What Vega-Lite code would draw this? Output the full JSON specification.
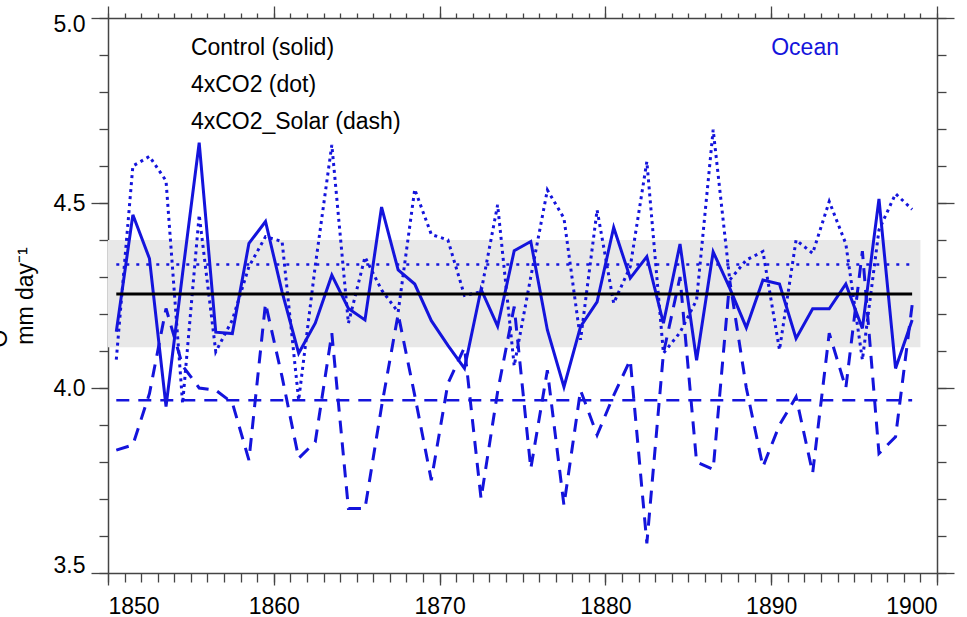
{
  "$schema": "https://vega.github.io/schema/vega-lite/v6.json",
  "width": 829,
  "height": 555,
  "autosize": "none",
  "padding": {"left": 108, "top": 18, "right": 30, "bottom": 44},
  "background": "white",
  "config": {
    "view": {"stroke": null},
    "axis": {
      "labelFont": "Liberation Sans",
      "titleFont": "Liberation Sans",
      "labelFontSize": 23,
      "labelColor": "black",
      "domainColor": "#444444",
      "tickColor": "#444444",
      "domainWidth": 1.5,
      "tickWidth": 1.3,
      "grid": false
    }
  },
  "datasets": {
    "series": [
      {"year": 1850.5, "control": 4.152, "co2": 4.077, "solar": 3.832},
      {"year": 1851.5, "control": 4.468, "co2": 4.600, "solar": 3.846},
      {"year": 1852.5, "control": 4.350, "co2": 4.626, "solar": 3.985},
      {"year": 1853.5, "control": 3.950, "co2": 4.560, "solar": 4.215},
      {"year": 1854.5, "control": 4.310, "co2": 3.958, "solar": 4.060},
      {"year": 1855.5, "control": 4.663, "co2": 4.468, "solar": 4.000},
      {"year": 1856.5, "control": 4.151, "co2": 4.098, "solar": 3.994},
      {"year": 1857.5, "control": 4.147, "co2": 4.184, "solar": 3.960},
      {"year": 1858.5, "control": 4.391, "co2": 4.328, "solar": 3.805},
      {"year": 1859.5, "control": 4.450, "co2": 4.409, "solar": 4.229},
      {"year": 1860.5, "control": 4.260, "co2": 4.396, "solar": 4.030},
      {"year": 1861.5, "control": 4.094, "co2": 3.967, "solar": 3.810},
      {"year": 1862.5, "control": 4.175, "co2": 4.330, "solar": 3.854},
      {"year": 1863.5, "control": 4.305, "co2": 4.657, "solar": 4.148},
      {"year": 1864.5, "control": 4.215, "co2": 4.175, "solar": 3.674},
      {"year": 1865.5, "control": 4.184, "co2": 4.354, "solar": 3.674},
      {"year": 1866.5, "control": 4.489, "co2": 4.265, "solar": 3.950},
      {"year": 1867.5, "control": 4.319, "co2": 4.205, "solar": 4.200},
      {"year": 1868.5, "control": 4.281, "co2": 4.537, "solar": 3.980},
      {"year": 1869.5, "control": 4.182, "co2": 4.415, "solar": 3.751},
      {"year": 1870.5, "control": 4.115, "co2": 4.400, "solar": 4.012},
      {"year": 1871.5, "control": 4.053, "co2": 4.250, "solar": 4.110},
      {"year": 1872.5, "control": 4.267, "co2": 4.260, "solar": 3.701},
      {"year": 1873.5, "control": 4.167, "co2": 4.495, "solar": 3.990},
      {"year": 1874.5, "control": 4.371, "co2": 4.060, "solar": 4.220},
      {"year": 1875.5, "control": 4.396, "co2": 4.300, "solar": 3.782},
      {"year": 1876.5, "control": 4.157, "co2": 4.535, "solar": 4.048},
      {"year": 1877.5, "control": 4.003, "co2": 4.459, "solar": 3.683},
      {"year": 1878.5, "control": 4.166, "co2": 4.130, "solar": 3.994},
      {"year": 1879.5, "control": 4.233, "co2": 4.481, "solar": 3.873},
      {"year": 1880.5, "control": 4.434, "co2": 4.229, "solar": 3.980},
      {"year": 1881.5, "control": 4.297, "co2": 4.328, "solar": 4.076},
      {"year": 1882.5, "control": 4.355, "co2": 4.612, "solar": 3.580},
      {"year": 1883.5, "control": 4.175, "co2": 4.094, "solar": 4.094},
      {"year": 1884.5, "control": 4.389, "co2": 4.150, "solar": 4.300},
      {"year": 1885.5, "control": 4.075, "co2": 4.238, "solar": 3.800},
      {"year": 1886.5, "control": 4.368, "co2": 4.698, "solar": 3.780},
      {"year": 1887.5, "control": 4.270, "co2": 4.292, "solar": 4.290},
      {"year": 1888.5, "control": 4.163, "co2": 4.346, "solar": 4.000},
      {"year": 1889.5, "control": 4.292, "co2": 4.369, "solar": 3.787},
      {"year": 1890.5, "control": 4.281, "co2": 4.103, "solar": 3.900},
      {"year": 1891.5, "control": 4.134, "co2": 4.400, "solar": 3.976},
      {"year": 1892.5, "control": 4.214, "co2": 4.364, "solar": 3.770},
      {"year": 1893.5, "control": 4.214, "co2": 4.504, "solar": 4.148},
      {"year": 1894.5, "control": 4.281, "co2": 4.390, "solar": 4.000},
      {"year": 1895.5, "control": 4.161, "co2": 4.076, "solar": 4.370},
      {"year": 1896.5, "control": 4.511, "co2": 4.427, "solar": 3.823},
      {"year": 1897.5, "control": 4.053, "co2": 4.525, "solar": 3.868},
      {"year": 1898.5, "control": 4.184, "co2": 4.483, "solar": 4.224}
    ],
    "band": [
      {"start": 1850, "end": 1899, "low": 4.11, "high": 4.40}
    ],
    "means": [
      {"run": "Control", "start": 1850.5, "end": 1898.5, "value": 4.254},
      {"run": "4xCO2", "start": 1850.5, "end": 1898.5, "value": 4.334},
      {"run": "4xCO2_Solar", "start": 1850.5, "end": 1898.5, "value": 3.967}
    ],
    "legend": [
      {"label": "Control (solid)", "year": 1855, "value": 4.9},
      {"label": "4xCO2 (dot)", "year": 1855, "value": 4.8},
      {"label": "4xCO2_Solar (dash)", "year": 1855, "value": 4.7}
    ],
    "region": [
      {"label": "Ocean", "year": 1890, "value": 4.9}
    ]
  },
  "layer": [
    {
      "data": {"name": "band"},
      "mark": {"type": "rect", "color": "#e8e8e8"},
      "encoding": {
        "x": {"field": "start", "type": "quantitative",
              "scale": {"domain": [1850, 1900], "nice": false, "zero": false},
              "axis": {"orient": "bottom", "values": [1850, 1860, 1870, 1880, 1890, 1900], "format": "d",
                       "tickSize": 12, "labelPadding": 10, "title": null}},
        "x2": {"field": "end"},
        "y": {"field": "low", "type": "quantitative",
              "scale": {"domain": [3.5, 5.0], "nice": false, "zero": false},
              "axis": {"orient": "left", "values": [3.5, 4.0, 4.5, 5.0], "format": ".1f",
                       "tickSize": 17, "labelPadding": 6, "labelFlush": true, "labelFlushOffset": 4.5,
                       "title": "mm day⁻¹", "titleFontSize": 23, "titleFontWeight": "normal",
                       "titleColor": "black", "titlePadding": 16}},
        "y2": {"field": "high"}
      }
    },
    {
      "data": {"name": "series"},
      "mark": {"type": "line", "color": "#1414dc", "strokeWidth": 3, "strokeDash": [13, 9]},
      "encoding": {
        "x": {"field": "year", "type": "quantitative",
              "scale": {"domain": [1850, 1900], "nice": false, "zero": false},
              "axis": {"orient": "bottom", "values": [1850,1851,1852,1853,1854,1855,1856,1857,1858,1859,1860,1861,1862,1863,1864,1865,1866,1867,1868,1869,1870,1871,1872,1873,1874,1875,1876,1877,1878,1879,1880,1881,1882,1883,1884,1885,1886,1887,1888,1889,1890,1891,1892,1893,1894,1895,1896,1897,1898,1899,1900],
                       "tickSize": 9, "labels": false, "domain": false, "title": null}},
        "y": {"field": "solar", "type": "quantitative",
              "scale": {"domain": [3.5, 5.0], "nice": false, "zero": false},
              "axis": {"orient": "left", "values": [3.5,3.6,3.7,3.8,3.9,4.0,4.1,4.2,4.3,4.4,4.5,4.6,4.7,4.8,4.9,5.0],
                       "tickSize": 9, "labels": false, "domain": false,
                       "title": "O", "titleAngle": 270, "titleAlign": "center", "titleBaseline": "alphabetic",
                       "titleX": -102, "titleY": 320, "titleFontSize": 23, "titleFontWeight": "normal", "titleColor": "black"}}
      }
    },
    {
      "data": {"name": "series"},
      "mark": {"type": "line", "color": "#1414dc", "strokeWidth": 3, "strokeDash": [3, 4]},
      "encoding": {
        "x": {"field": "year", "type": "quantitative",
              "scale": {"domain": [1850, 1900], "nice": false, "zero": false},
              "axis": {"orient": "top", "values": [1850, 1860, 1870, 1880, 1890, 1900],
                       "tickSize": 12, "labels": false, "domain": true, "title": null}},
        "y": {"field": "co2", "type": "quantitative",
              "scale": {"domain": [3.5, 5.0], "nice": false, "zero": false},
              "axis": {"orient": "right", "values": [3.5, 4.0, 4.5, 5.0],
                       "tickSize": 17, "labels": false, "domain": true, "title": null}}
      }
    },
    {
      "data": {"name": "series"},
      "mark": {"type": "line", "color": "#1414dc", "strokeWidth": 3},
      "encoding": {
        "x": {"field": "year", "type": "quantitative",
              "scale": {"domain": [1850, 1900], "nice": false, "zero": false},
              "axis": {"orient": "top", "values": [1850,1851,1852,1853,1854,1855,1856,1857,1858,1859,1860,1861,1862,1863,1864,1865,1866,1867,1868,1869,1870,1871,1872,1873,1874,1875,1876,1877,1878,1879,1880,1881,1882,1883,1884,1885,1886,1887,1888,1889,1890,1891,1892,1893,1894,1895,1896,1897,1898,1899,1900],
                       "tickSize": 5, "labels": false, "domain": false, "title": null}},
        "y": {"field": "control", "type": "quantitative",
              "scale": {"domain": [3.5, 5.0], "nice": false, "zero": false},
              "axis": {"orient": "right", "values": [3.5,3.6,3.7,3.8,3.9,4.0,4.1,4.2,4.3,4.4,4.5,4.6,4.7,4.8,4.9,5.0],
                       "tickSize": 9, "labels": false, "domain": false, "title": null}}
      }
    },
    {
      "data": {"name": "means"},
      "transform": [{"filter": "datum.run === '4xCO2_Solar'"}],
      "mark": {"type": "rule", "color": "#1414dc", "strokeWidth": 2.5, "strokeDash": [13, 9]},
      "encoding": {
        "x": {"field": "start", "type": "quantitative", "scale": {"domain": [1850, 1900], "nice": false, "zero": false}, "axis": null},
        "x2": {"field": "end"},
        "y": {"field": "value", "type": "quantitative", "scale": {"domain": [3.5, 5.0], "nice": false, "zero": false}, "axis": null}
      }
    },
    {
      "data": {"name": "means"},
      "transform": [{"filter": "datum.run === '4xCO2'"}],
      "mark": {"type": "rule", "color": "#1414dc", "strokeWidth": 2.5, "strokeDash": [3, 7]},
      "encoding": {
        "x": {"field": "start", "type": "quantitative", "scale": {"domain": [1850, 1900], "nice": false, "zero": false}, "axis": null},
        "x2": {"field": "end"},
        "y": {"field": "value", "type": "quantitative", "scale": {"domain": [3.5, 5.0], "nice": false, "zero": false}, "axis": null}
      }
    },
    {
      "data": {"name": "means"},
      "transform": [{"filter": "datum.run === 'Control'"}],
      "mark": {"type": "rule", "color": "black", "strokeWidth": 3},
      "encoding": {
        "x": {"field": "start", "type": "quantitative", "scale": {"domain": [1850, 1900], "nice": false, "zero": false}, "axis": null},
        "x2": {"field": "end"},
        "y": {"field": "value", "type": "quantitative", "scale": {"domain": [3.5, 5.0], "nice": false, "zero": false}, "axis": null}
      }
    },
    {
      "data": {"name": "legend"},
      "mark": {"type": "text", "align": "left", "baseline": "alphabetic", "font": "Liberation Sans", "fontSize": 23, "color": "black"},
      "encoding": {
        "x": {"field": "year", "type": "quantitative", "scale": {"domain": [1850, 1900], "nice": false, "zero": false}, "axis": null},
        "y": {"field": "value", "type": "quantitative", "scale": {"domain": [3.5, 5.0], "nice": false, "zero": false}, "axis": null},
        "text": {"field": "label"}
      }
    },
    {
      "data": {"name": "region"},
      "mark": {"type": "text", "align": "left", "baseline": "alphabetic", "font": "Liberation Sans", "fontSize": 23, "color": "#1414dc"},
      "encoding": {
        "x": {"field": "year", "type": "quantitative", "scale": {"domain": [1850, 1900], "nice": false, "zero": false}, "axis": null},
        "y": {"field": "value", "type": "quantitative", "scale": {"domain": [3.5, 5.0], "nice": false, "zero": false}, "axis": null},
        "text": {"field": "label"}
      }
    }
  ],
  "resolve": {"axis": {"x": "independent", "y": "independent"}}
}
